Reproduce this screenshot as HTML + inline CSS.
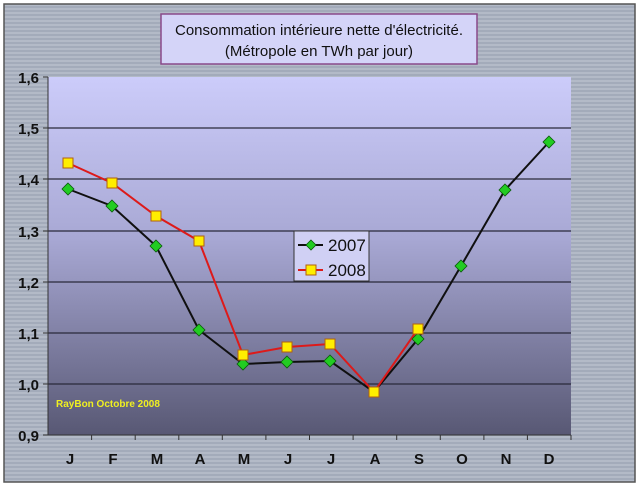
<!DOCTYPE html>
<html><head><meta charset="utf-8"><style>
html,body{margin:0;padding:0;background:#fff;}
</style></head><body>
<svg width="640" height="487" viewBox="0 0 640 487" xmlns="http://www.w3.org/2000/svg" font-family="Liberation Sans, sans-serif">
<defs>
<pattern id="st" width="4" height="4" patternUnits="userSpaceOnUse">
<rect width="4" height="4" fill="#a3abba"/><rect width="4" height="2" fill="#b3bac7"/>
</pattern>
<linearGradient id="pg" x1="0" y1="0" x2="0" y2="1">
<stop offset="0" stop-color="#ccccfa"/><stop offset="0.45" stop-color="#a8a8d4"/><stop offset="1" stop-color="#585874"/>
</linearGradient>
</defs>
<rect x="0" y="0" width="640" height="487" fill="#fff"/>
<rect x="4" y="4" width="631" height="478" fill="url(#st)" stroke="#555" stroke-width="1.5"/>
<rect x="48" y="77" width="523" height="358" fill="url(#pg)"/>
<g stroke="#2a2a3a" stroke-width="1.2">
<line x1="48" y1="128" x2="571" y2="128"/><line x1="48" y1="179" x2="571" y2="179"/>
<line x1="48" y1="231" x2="571" y2="231"/><line x1="48" y1="282" x2="571" y2="282"/>
<line x1="48" y1="333" x2="571" y2="333"/><line x1="48" y1="384" x2="571" y2="384"/>
</g>
<g stroke="#333" stroke-width="1">
<line x1="48" y1="77" x2="48" y2="435"/><line x1="48" y1="435" x2="571" y2="435"/>
<line x1="43" y1="77" x2="48" y2="77"/><line x1="43" y1="128" x2="48" y2="128"/><line x1="43" y1="179" x2="48" y2="179"/><line x1="43" y1="231" x2="48" y2="231"/><line x1="43" y1="282" x2="48" y2="282"/><line x1="43" y1="333" x2="48" y2="333"/><line x1="43" y1="384" x2="48" y2="384"/><line x1="43" y1="435" x2="48" y2="435"/>
<line x1="91.6" y1="435" x2="91.6" y2="440"/><line x1="135.2" y1="435" x2="135.2" y2="440"/><line x1="178.8" y1="435" x2="178.8" y2="440"/><line x1="222.3" y1="435" x2="222.3" y2="440"/><line x1="265.9" y1="435" x2="265.9" y2="440"/><line x1="309.5" y1="435" x2="309.5" y2="440"/><line x1="353.1" y1="435" x2="353.1" y2="440"/><line x1="396.7" y1="435" x2="396.7" y2="440"/><line x1="440.3" y1="435" x2="440.3" y2="440"/><line x1="483.9" y1="435" x2="483.9" y2="440"/><line x1="527.4" y1="435" x2="527.4" y2="440"/><line x1="571" y1="435" x2="571" y2="440"/>
</g>
<g font-size="15" font-weight="bold" fill="#111" text-anchor="end">
<text x="39" y="83">1,6</text><text x="39" y="134">1,5</text><text x="39" y="185">1,4</text><text x="39" y="237">1,3</text><text x="39" y="288">1,2</text><text x="39" y="339">1,1</text><text x="39" y="390">1,0</text><text x="39" y="441">0,9</text>
</g>
<g font-size="15" font-weight="bold" fill="#111" text-anchor="middle">
<text x="70" y="464">J</text><text x="113" y="464">F</text><text x="157" y="464">M</text><text x="200" y="464">A</text><text x="244" y="464">M</text><text x="288" y="464">J</text><text x="331" y="464">J</text><text x="375" y="464">A</text><text x="419" y="464">S</text><text x="462" y="464">O</text><text x="506" y="464">N</text><text x="549" y="464">D</text>
</g>
<rect x="161" y="14" width="316" height="50" fill="#d4d4f8" stroke="#8a4a8a" stroke-width="1.5"/>
<text x="319" y="35" font-size="15" text-anchor="middle" fill="#111">Consommation intérieure nette d'électricité.</text>
<text x="319" y="56" font-size="15" text-anchor="middle" fill="#111">(Métropole en TWh par jour)</text>
<text x="56" y="407" font-size="10" font-weight="bold" fill="#f0f020">RayBon Octobre 2008</text>
<polyline fill="none" stroke="#101010" stroke-width="2" points="68,189 112,206 156,246 199,330 243,364 287,362 330,361 374,392 418,339 461,266 505,190 549,142"/>
<polyline fill="none" stroke="#dd1a1a" stroke-width="2" points="68,163 112,183 156,216 199,241 243,355 287,347 330,344 374,392 418,329"/>
<g fill="#22cc22" stroke="#0a5a0a" stroke-width="0.8">
<path d="M68,183l6,6l-6,6l-6,-6z"/><path d="M112,200l6,6l-6,6l-6,-6z"/><path d="M156,240l6,6l-6,6l-6,-6z"/><path d="M199,324l6,6l-6,6l-6,-6z"/><path d="M243,358l6,6l-6,6l-6,-6z"/><path d="M287,356l6,6l-6,6l-6,-6z"/><path d="M330,355l6,6l-6,6l-6,-6z"/><path d="M418,333l6,6l-6,6l-6,-6z"/><path d="M461,260l6,6l-6,6l-6,-6z"/><path d="M505,184l6,6l-6,6l-6,-6z"/><path d="M549,136l6,6l-6,6l-6,-6z"/>
</g>
<g fill="#ffee00" stroke="#b06010" stroke-width="1">
<rect x="63" y="158" width="10" height="10"/><rect x="107" y="178" width="10" height="10"/><rect x="151" y="211" width="10" height="10"/><rect x="194" y="236" width="10" height="10"/><rect x="238" y="350" width="10" height="10"/><rect x="282" y="342" width="10" height="10"/><rect x="325" y="339" width="10" height="10"/><rect x="369" y="387" width="10" height="10"/><rect x="413" y="324" width="10" height="10"/>
</g>
<rect x="294" y="231" width="75" height="50" fill="#d0d0f4" stroke="#333" stroke-width="1"/>
<line x1="298" y1="245" x2="323" y2="245" stroke="#101010" stroke-width="2"/>
<path d="M311,240l5,5l-5,5l-5,-5z" fill="#22cc22" stroke="#0a5a0a" stroke-width="0.8"/>
<text x="328" y="251" font-size="17" fill="#111">2007</text>
<line x1="298" y1="270" x2="323" y2="270" stroke="#dd1a1a" stroke-width="2"/>
<rect x="306" y="265" width="10" height="10" fill="#ffee00" stroke="#b06010"/>
<text x="328" y="276" font-size="17" fill="#111">2008</text>
</svg>
</body></html>
